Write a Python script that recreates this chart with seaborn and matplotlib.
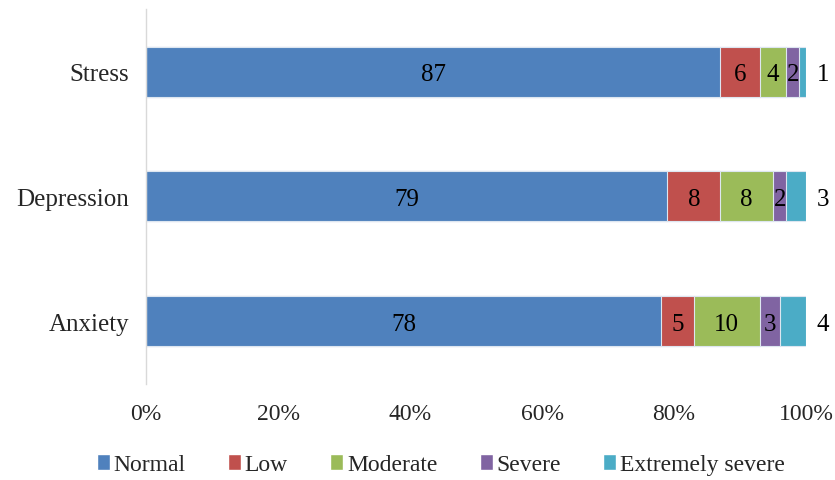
import numpy as np
import pandas as pd
import matplotlib
matplotlib.use("Agg")
import matplotlib.pyplot as plt
import seaborn as sns
from matplotlib.patches import Patch

categories = ["Stress", "Depression", "Anxiety"]
levels = ["Normal", "Low", "Moderate", "Severe", "Extremely severe"]
normal = [87, 79, 78]
low = [6, 8, 5]
moderate = [4, 8, 10]
severe = [2, 2, 3]
extreme = [1, 3, 4]
colors = ["#4F81BD", "#C0504D", "#9BBB59", "#8064A2", "#4BACC6"]

sns.set_style("white")
plt.rcParams["font.family"] = ["Liberation Serif", "DejaVu Serif"]

series = [normal, low, moderate, severe, extreme]
cum = np.cumsum(np.array(series), axis=0)

fig = plt.figure(figsize=(8.35, 4.81), dpi=100)
ax = fig.add_axes([0.1749, 0.1996, 0.7904, 0.7796])

# draw cumulative totals from largest to smallest so each overlays the next
for i in range(len(levels) - 1, -1, -1):
    df = pd.DataFrame({"cat": categories, "val": cum[i]})
    sns.barplot(data=df, x="val", y="cat", orient="h", color=colors[i],
                saturation=1, width=0.4, edgecolor="#dde6f0", linewidth=0.8, ax=ax)

for i in range(len(levels)):
    for j, c in enumerate(categories):
        v = series[i][j]
        if i == len(levels) - 1:
            xpos = 102.6
        else:
            xpos = cum[i][j] - v / 2
        ax.text(xpos, j + 0.02, str(v), ha="center", va="center", fontsize=18, color="black")

ax.set_xlim(0, 100)
ax.set_ylim(2.5, -0.5)
ax.set_xticks([0, 20, 40, 60, 80, 100])
ax.set_xticklabels(["0%", "20%", "40%", "60%", "80%", "100%"])
ax.tick_params(axis="x", labelsize=17, length=0, pad=14)
ax.tick_params(axis="y", labelsize=18, length=0, pad=12)
ax.set_xlabel("")
ax.set_ylabel("")
for s in ["top", "right", "bottom"]:
    ax.spines[s].set_visible(False)
ax.spines["left"].set_color("#d9d9d9")
ax.spines["left"].set_linewidth(1)

handles = [Patch(facecolor=c, label=l) for c, l in zip(colors, levels)]
fig.legend(handles=handles, loc="center", bbox_to_anchor=(0.528, 0.032), ncol=5,
           frameon=False, fontsize=17, handlelength=0.55, handleheight=0.7,
           handletextpad=0.15, columnspacing=1.8)

fig.savefig("out.png", dpi=100)
